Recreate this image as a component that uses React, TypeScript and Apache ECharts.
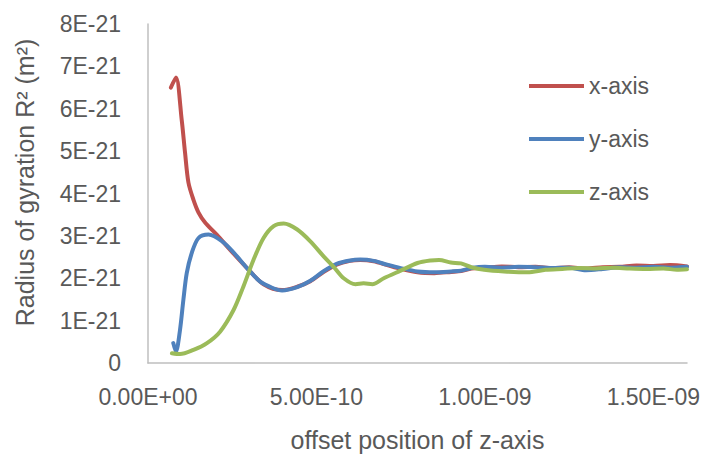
import React, { useEffect, useRef } from "react";
import * as echarts from "echarts";

// x values in units of 1e-10 (offset position), y values in units of 1e-21 m²
const redX = [0.68, 0.83, 1.0, 1.1, 1.2, 1.35, 1.5, 1.7, 2.04, 2.44, 2.94, 3.43, 3.98, 4.43, 4.82, 5.2, 5.6, 6.0, 6.3, 6.7, 7.1, 7.5, 8.0, 8.5, 9.0, 9.3, 9.6, 10.0, 10.5, 11.0, 11.5, 12.0, 12.5, 13.0, 13.5, 14.0, 14.5, 15.0, 15.5, 16.0];
const redY = [6.5, 6.74, 5.74, 4.96, 4.26, 3.85, 3.55, 3.31, 3.03, 2.67, 2.24, 1.86, 1.72, 1.8, 1.93, 2.14, 2.32, 2.41, 2.43, 2.4, 2.31, 2.22, 2.14, 2.12, 2.15, 2.17, 2.23, 2.25, 2.28, 2.26, 2.27, 2.24, 2.26, 2.23, 2.26, 2.27, 2.3, 2.29, 2.31, 2.28];

const blueX = [0.75, 0.83, 0.95, 1.05, 1.15, 1.3, 1.5, 1.8, 2.2, 2.55, 2.94, 3.33, 3.7, 3.98, 4.43, 4.82, 5.2, 5.6, 6.0, 6.3, 6.7, 7.1, 7.5, 8.0, 8.5, 9.0, 9.3, 9.6, 10.0, 10.5, 11.0, 11.5, 12.0, 12.5, 13.0, 13.5, 14.0, 14.5, 15.0, 15.5, 16.0];
const blueY = [0.47, 0.27, 0.78, 1.49, 2.12, 2.6, 2.95, 3.03, 2.87, 2.6, 2.24, 1.92, 1.77, 1.71, 1.79, 1.94, 2.16, 2.34, 2.42, 2.44, 2.41, 2.32, 2.24, 2.16, 2.14, 2.16, 2.18, 2.24, 2.27, 2.25, 2.27, 2.26, 2.24, 2.25, 2.19, 2.22, 2.26, 2.25, 2.27, 2.25, 2.27];

const greenX = [0.71, 0.95, 1.35, 1.75, 2.14, 2.54, 2.83, 3.13, 3.43, 3.73, 4.03, 4.43, 4.82, 5.22, 5.51, 5.81, 6.16, 6.4, 6.66, 7.0, 7.5, 8.0, 8.39, 8.64, 8.99, 9.29, 9.6, 9.98, 10.57, 11.27, 11.8, 12.3, 12.8, 13.3, 13.8, 14.3, 14.8, 15.3, 15.7, 16.0];
const greenY = [0.23, 0.21, 0.31, 0.47, 0.74, 1.25, 1.8, 2.43, 2.95, 3.23, 3.29, 3.15, 2.87, 2.51, 2.27, 2.0, 1.86, 1.88, 1.86, 2.0, 2.18, 2.36, 2.42, 2.43, 2.37, 2.35, 2.26, 2.2, 2.16, 2.14, 2.2, 2.22, 2.24, 2.23, 2.25, 2.23, 2.22, 2.23, 2.2, 2.21];

const seriesNames = ["x-axis", "y-axis", "z-axis"];
const seriesColors = ["#C0504D", "#4F81BD", "#9BBB59"];

const xTitle = "offset position of z-axis";
const yTitle = "Radius of gyration R\u00B2 (m\u00B2)";

const FONT = "Liberation Sans";
const GRAY = "#595959";

function fmtX(v: number): string {
  const s = (v * 1e-10).toExponential(2); // e.g. 5.00e-10
  const [mant, exp] = s.split("e");
  const sign = exp[0] === "-" ? "-" : "+";
  const digits = exp.replace(/[+-]/, "").padStart(2, "0");
  return `${mant}E${sign}${digits}`;
}

function fmtY(v: number): string {
  if (v === 0) return "0";
  return `${Math.round(v)}E-21`;
}

function zip(xs: number[], ys: number[]): number[][] {
  return xs.map((x, i) => [x, ys[i]]);
}

export default function App() {
  const ref = useRef<HTMLDivElement>(null);
  useEffect(() => {
    if (!ref.current) return;
    const chart = echarts.init(ref.current, undefined, { renderer: "svg" });
    const datas = [zip(redX, redY), zip(blueX, blueY), zip(greenX, greenY)];
    chart.setOption({
      animation: false,
      backgroundColor: "#ffffff",
      grid: { left: 148, top: 24, width: 539, height: 339, containLabel: false },
      legend: {
        orient: "vertical",
        left: 524,
        top: 69,
        itemWidth: 55,
        itemHeight: 4,
        itemGap: 29,
        icon: "rect",
        data: seriesNames,
        textStyle: { fontFamily: FONT, fontSize: 23, color: GRAY, lineHeight: 24 },
      },
      xAxis: {
        type: "value",
        min: 0,
        max: 16,
        interval: 5,
        axisLine: { show: true, lineStyle: { color: "#BFBFBF", width: 1.5 } },
        axisTick: { show: false },
        splitLine: { show: false },
        axisLabel: {
          showMaxLabel: false,
          margin: 22,
          fontFamily: FONT,
          fontSize: 23,
          color: GRAY,
          formatter: (v: number) => (v === 16 ? "" : fmtX(v)),
        },
      },
      yAxis: {
        type: "value",
        min: 0,
        max: 8,
        interval: 1,
        axisLine: { show: true, lineStyle: { color: "#BFBFBF", width: 1.5 } },
        axisTick: { show: false },
        splitLine: { show: false },
        axisLabel: {
          margin: 27,
          fontFamily: FONT,
          fontSize: 23,
          color: GRAY,
          formatter: (v: number) => fmtY(v),
        },
      },
      graphic: [
        {
          type: "text",
          x: 417.5,
          y: 440,
          style: {
            text: xTitle,
            fontFamily: FONT,
            fontSize: 25,
            fill: GRAY,
            align: "center",
            verticalAlign: "middle",
          },
        },
        {
          type: "text",
          x: 24.5,
          y: 182.5,
          rotation: Math.PI / 2,
          style: {
            text: yTitle,
            fontFamily: FONT,
            fontSize: 25,
            fill: GRAY,
            align: "center",
            verticalAlign: "middle",
          },
        },
      ],
      series: seriesNames.map((name, i) => ({
        name,
        type: "line",
        data: datas[i],
        smooth: 0.3,
        showSymbol: false,
        symbol: "none",
        color: seriesColors[i],
        lineStyle: { width: 4, color: seriesColors[i], cap: "round", join: "round" },
        z: 2 + i,
      })),
    });
    return () => chart.dispose();
  }, []);
  return (
    <div
      ref={ref}
      style={{ position: "fixed", left: 0, top: 0, width: 705, height: 455, background: "#fff" }}
    />
  );
}
